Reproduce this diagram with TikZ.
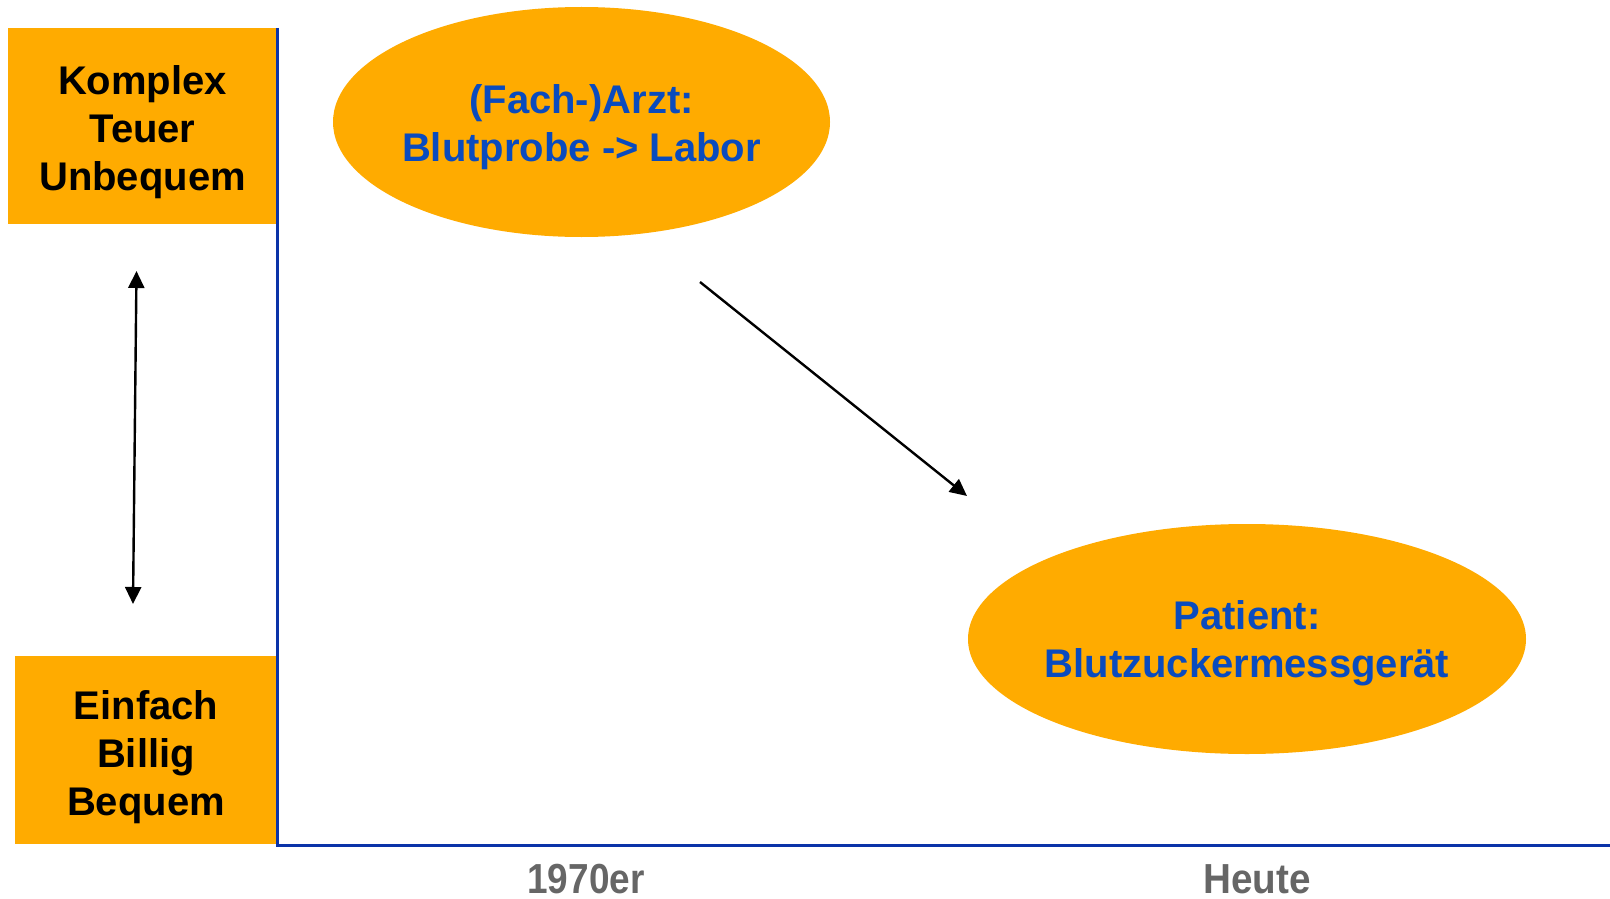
\documentclass[tikz,border=0pt]{standalone}
\usepackage{fontspec}
\setmainfont{Liberation Sans}
\usetikzlibrary{shapes.geometric,arrows.meta}
\definecolor{boxorange}{HTML}{FFAB00}
\definecolor{textblue}{HTML}{0A4BBE}
\definecolor{axisblue}{HTML}{0A33A8}
\definecolor{labelgray}{HTML}{666666}
\tikzset{
  sidebox/.style={fill=boxorange, draw=none, inner sep=0pt},
  sidetext/.style={inner sep=0pt, align=center,
    font=\fontsize{40}{48}\selectfont\bfseries, text=black},
  oval/.style={ellipse, fill=boxorange, draw=none, inner sep=0pt},
  ovaltext/.style={inner sep=0pt, align=center,
    font=\fontsize{40}{48}\selectfont\bfseries, text=textblue},
  axislabel/.style={font=\fontsize{42}{48}\selectfont\bfseries, text=labelgray, inner sep=0pt},
  axisline/.style={draw=axisblue, line width=3pt},
  conn/.style={draw=black, line width=2.4pt, -{Triangle[width=16pt,length=17pt]}},
  dconn/.style={draw=black, line width=2.4pt, {Triangle[width=16pt,length=17pt]}-{Triangle[width=16pt,length=17pt]}}
}
\begin{document}
\begin{tikzpicture}[x=1pt,y=-1pt]
\useasboundingbox (0,0) rectangle (1610,899);
\node[sidebox, minimum width=269pt, minimum height=196pt] (top) at (142.5,126) {};
\node[sidetext] (toptext) at ([yshift=-6pt]top.center) {Komplex\\Teuer\\Unbequem};
\node[sidebox, minimum width=262pt, minimum height=188pt] (bot) at (146,750) {};
\node[sidetext] (bottext) at ([yshift=-7pt]bot.center) {Einfach\\Billig\\Bequem};
\node[oval, minimum width=497pt, minimum height=230pt] (arzt) at (581.5,122) {};
\node[ovaltext] (arzttext) at ([yshift=-5pt]arzt.center) {(Fach-)Arzt:\\Blutprobe -> Labor};
\node[oval, minimum width=558pt, minimum height=230pt] (pat) at (1247,639) {};
\node[ovaltext] (pattext) at ([yshift=-4pt]pat.center) {Patient:\\Blutzuckermessger\"at};
\coordinate (yt) at (277,28);
\coordinate (o) at (277,845);
\coordinate (xr) at (1610,845);
\draw[axisline] (yt) -- (o) -- (xr);
\node[axislabel] (l1) at (586,879) {\scalebox{0.88}[1]{1970er}};
\node[axislabel] (l2) at (1257,879) {\scalebox{0.92}[1]{Heute}};
\coordinate (da) at (133,604);
\coordinate (db) at (136.5,271);
\draw[dconn] (da) -- (db);
\coordinate (aa) at (700,282);
\coordinate (ab) at (967,496);
\draw[conn] (aa) -- (ab);
\end{tikzpicture}
\end{document}
